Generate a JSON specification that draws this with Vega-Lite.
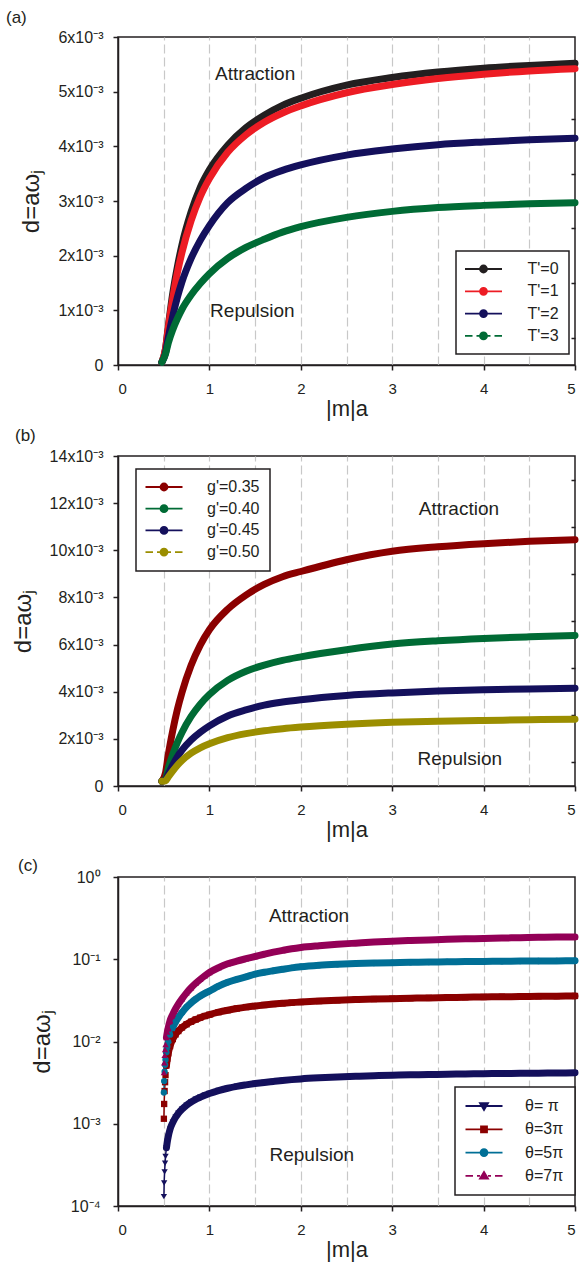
{
"$schema": "https://vega.github.io/schema/vega-lite/v6.json",
"padding": {"left": 5, "top": 8, "right": 0, "bottom": 5},
"background": "white",
"spacing": 91,
"bounds": "flush",
"config": {
  "font": "Liberation Sans",
  "view": {"stroke": "#231f20", "strokeWidth": 1.5},
  "axis": {"labelFont": "Liberation Sans", "labelFontSize": 15, "labelColor": "#231f20", "titleFont": "Liberation Sans", "titleFontSize": 22, "titleFontWeight": "normal", "titleColor": "#231f20", "domainColor": "#231f20", "domainWidth": 1.5, "tickColor": "#231f20", "tickWidth": 1.5, "tickSize": 5, "grid": false},
  "axisLeft": {"labelFontSize": 16, "titleFontSize": 24},
  "title": {"font": "Liberation Sans", "fontSize": 17, "fontWeight": "normal", "color": "#231f20", "anchor": "start", "frame": "group"},
  "legend": {"labelFont": "Liberation Sans", "labelFontSize": 16, "labelColor": "#231f20", "fillColor": "white", "strokeColor": "#231f20", "symbolSize": 100, "symbolStrokeWidth": 1.8}
},
"resolve": {"scale": {"color": "independent", "shape": "independent"}, "legend": {"color": "independent", "shape": "independent"}},
"datasets": {
  "a": [
    {"s":"T'=0","x":0.48,"y":0.00005},{"s":"T'=0","x":0.52,"y":0.0003},{"s":"T'=0","x":0.55,"y":0.0007},{"s":"T'=0","x":0.6,"y":0.00132},{"s":"T'=0","x":0.65,"y":0.0018},{"s":"T'=0","x":0.7,"y":0.0022},{"s":"T'=0","x":0.8,"y":0.0028},{"s":"T'=0","x":0.9,"y":0.00325},{"s":"T'=0","x":1.0,"y":0.00357},{"s":"T'=0","x":1.2,"y":0.00402},{"s":"T'=0","x":1.4,"y":0.00434},{"s":"T'=0","x":1.6,"y":0.00457},{"s":"T'=0","x":1.8,"y":0.00475},{"s":"T'=0","x":2.0,"y":0.00488},{"s":"T'=0","x":2.5,"y":0.00512},{"s":"T'=0","x":3.0,"y":0.00526},{"s":"T'=0","x":3.5,"y":0.00536},{"s":"T'=0","x":4.0,"y":0.00543},{"s":"T'=0","x":4.5,"y":0.00548},{"s":"T'=0","x":5.0,"y":0.00552},
    {"s":"T'=1","x":0.48,"y":0.00005},{"s":"T'=1","x":0.52,"y":0.00029},{"s":"T'=1","x":0.55,"y":0.00068},{"s":"T'=1","x":0.6,"y":0.00123},{"s":"T'=1","x":0.65,"y":0.00169},{"s":"T'=1","x":0.7,"y":0.00206},{"s":"T'=1","x":0.8,"y":0.00264},{"s":"T'=1","x":0.9,"y":0.00308},{"s":"T'=1","x":1.0,"y":0.00341},{"s":"T'=1","x":1.2,"y":0.00389},{"s":"T'=1","x":1.4,"y":0.00421},{"s":"T'=1","x":1.6,"y":0.00444},{"s":"T'=1","x":1.8,"y":0.00461},{"s":"T'=1","x":2.0,"y":0.00474},{"s":"T'=1","x":2.5,"y":0.00498},{"s":"T'=1","x":3.0,"y":0.00513},{"s":"T'=1","x":3.5,"y":0.00524},{"s":"T'=1","x":4.0,"y":0.00532},{"s":"T'=1","x":4.5,"y":0.00538},{"s":"T'=1","x":5.0,"y":0.00542},
    {"s":"T'=2","x":0.48,"y":0.00005},{"s":"T'=2","x":0.52,"y":0.00022},{"s":"T'=2","x":0.55,"y":0.0005},{"s":"T'=2","x":0.6,"y":0.0009},{"s":"T'=2","x":0.65,"y":0.00124},{"s":"T'=2","x":0.7,"y":0.00152},{"s":"T'=2","x":0.8,"y":0.00195},{"s":"T'=2","x":0.9,"y":0.00228},{"s":"T'=2","x":1.0,"y":0.00255},{"s":"T'=2","x":1.2,"y":0.00297},{"s":"T'=2","x":1.4,"y":0.00323},{"s":"T'=2","x":1.6,"y":0.00343},{"s":"T'=2","x":1.8,"y":0.00356},{"s":"T'=2","x":2.0,"y":0.00366},{"s":"T'=2","x":2.5,"y":0.00384},{"s":"T'=2","x":3.0,"y":0.00395},{"s":"T'=2","x":3.5,"y":0.00403},{"s":"T'=2","x":4.0,"y":0.00408},{"s":"T'=2","x":4.5,"y":0.00412},{"s":"T'=2","x":5.0,"y":0.00415},
    {"s":"T'=3","x":0.48,"y":0.00005},{"s":"T'=3","x":0.52,"y":0.0002},{"s":"T'=3","x":0.55,"y":0.0004},{"s":"T'=3","x":0.6,"y":0.00065},{"s":"T'=3","x":0.65,"y":0.00085},{"s":"T'=3","x":0.7,"y":0.00102},{"s":"T'=3","x":0.8,"y":0.00128},{"s":"T'=3","x":0.9,"y":0.00149},{"s":"T'=3","x":1.0,"y":0.00167},{"s":"T'=3","x":1.2,"y":0.00195},{"s":"T'=3","x":1.4,"y":0.00215},{"s":"T'=3","x":1.6,"y":0.0023},{"s":"T'=3","x":1.8,"y":0.00243},{"s":"T'=3","x":2.0,"y":0.00253},{"s":"T'=3","x":2.5,"y":0.0027},{"s":"T'=3","x":3.0,"y":0.00281},{"s":"T'=3","x":3.5,"y":0.00288},{"s":"T'=3","x":4.0,"y":0.00292},{"s":"T'=3","x":4.5,"y":0.00295},{"s":"T'=3","x":5.0,"y":0.00297}
  ],
  "b": [
    {"s":"g'=0.35","x":0.48,"y":0.0002},{"s":"g'=0.35","x":0.52,"y":0.00056},{"s":"g'=0.35","x":0.55,"y":0.00132},{"s":"g'=0.35","x":0.6,"y":0.00237},{"s":"g'=0.35","x":0.65,"y":0.00325},{"s":"g'=0.35","x":0.7,"y":0.00397},{"s":"g'=0.35","x":0.8,"y":0.00512},{"s":"g'=0.35","x":0.9,"y":0.00598},{"s":"g'=0.35","x":1.0,"y":0.00663},{"s":"g'=0.35","x":1.2,"y":0.0075},{"s":"g'=0.35","x":1.4,"y":0.0081},{"s":"g'=0.35","x":1.6,"y":0.00855},{"s":"g'=0.35","x":1.8,"y":0.00888},{"s":"g'=0.35","x":2.0,"y":0.0091},{"s":"g'=0.35","x":2.5,"y":0.0096},{"s":"g'=0.35","x":3.0,"y":0.00996},{"s":"g'=0.35","x":3.5,"y":0.01015},{"s":"g'=0.35","x":4.0,"y":0.01028},{"s":"g'=0.35","x":4.5,"y":0.01038},{"s":"g'=0.35","x":5.0,"y":0.01045},
    {"s":"g'=0.40","x":0.48,"y":0.0002},{"s":"g'=0.40","x":0.52,"y":0.0003},{"s":"g'=0.40","x":0.55,"y":0.00075},{"s":"g'=0.40","x":0.6,"y":0.00135},{"s":"g'=0.40","x":0.65,"y":0.00185},{"s":"g'=0.40","x":0.7,"y":0.00227},{"s":"g'=0.40","x":0.8,"y":0.00295},{"s":"g'=0.40","x":0.9,"y":0.00347},{"s":"g'=0.40","x":1.0,"y":0.00388},{"s":"g'=0.40","x":1.2,"y":0.00448},{"s":"g'=0.40","x":1.4,"y":0.00487},{"s":"g'=0.40","x":1.6,"y":0.00513},{"s":"g'=0.40","x":1.8,"y":0.00533},{"s":"g'=0.40","x":2.0,"y":0.00548},{"s":"g'=0.40","x":2.5,"y":0.00578},{"s":"g'=0.40","x":3.0,"y":0.00602},{"s":"g'=0.40","x":3.5,"y":0.00616},{"s":"g'=0.40","x":4.0,"y":0.00626},{"s":"g'=0.40","x":4.5,"y":0.00633},{"s":"g'=0.40","x":5.0,"y":0.00639},
    {"s":"g'=0.45","x":0.48,"y":0.0002},{"s":"g'=0.45","x":0.52,"y":0.00025},{"s":"g'=0.45","x":0.55,"y":0.0005},{"s":"g'=0.45","x":0.6,"y":0.0009},{"s":"g'=0.45","x":0.65,"y":0.00124},{"s":"g'=0.45","x":0.7,"y":0.00152},{"s":"g'=0.45","x":0.8,"y":0.00195},{"s":"g'=0.45","x":0.9,"y":0.00228},{"s":"g'=0.45","x":1.0,"y":0.00255},{"s":"g'=0.45","x":1.2,"y":0.00297},{"s":"g'=0.45","x":1.4,"y":0.00323},{"s":"g'=0.45","x":1.6,"y":0.00343},{"s":"g'=0.45","x":1.8,"y":0.00356},{"s":"g'=0.45","x":2.0,"y":0.00366},{"s":"g'=0.45","x":2.5,"y":0.00384},{"s":"g'=0.45","x":3.0,"y":0.00395},{"s":"g'=0.45","x":3.5,"y":0.00403},{"s":"g'=0.45","x":4.0,"y":0.00408},{"s":"g'=0.45","x":4.5,"y":0.00412},{"s":"g'=0.45","x":5.0,"y":0.00415},
    {"s":"g'=0.50","x":0.48,"y":0.0002},{"s":"g'=0.50","x":0.52,"y":0.00022},{"s":"g'=0.50","x":0.55,"y":0.00038},{"s":"g'=0.50","x":0.6,"y":0.00064},{"s":"g'=0.50","x":0.65,"y":0.00088},{"s":"g'=0.50","x":0.7,"y":0.00108},{"s":"g'=0.50","x":0.8,"y":0.00139},{"s":"g'=0.50","x":0.9,"y":0.00162},{"s":"g'=0.50","x":1.0,"y":0.00179},{"s":"g'=0.50","x":1.2,"y":0.00205},{"s":"g'=0.50","x":1.4,"y":0.00222},{"s":"g'=0.50","x":1.6,"y":0.00234},{"s":"g'=0.50","x":1.8,"y":0.00243},{"s":"g'=0.50","x":2.0,"y":0.0025},{"s":"g'=0.50","x":2.5,"y":0.00262},{"s":"g'=0.50","x":3.0,"y":0.0027},{"s":"g'=0.50","x":3.5,"y":0.00275},{"s":"g'=0.50","x":4.0,"y":0.00278},{"s":"g'=0.50","x":4.5,"y":0.00281},{"s":"g'=0.50","x":5.0,"y":0.00283}
  ],
  "c": [
    {"s":"θ= π","x":0.502,"y":0.00013},{"s":"θ= π","x":0.505,"y":0.00019},{"s":"θ= π","x":0.51,"y":0.00026},{"s":"θ= π","x":0.515,"y":0.00033},{"s":"θ= π","x":0.52,"y":0.0004},{"s":"θ= π","x":0.53,"y":0.00051},{"s":"θ= π","x":0.54,"y":0.00061},{"s":"θ= π","x":0.55,"y":0.0007},{"s":"θ= π","x":0.57,"y":0.00086},{"s":"θ= π","x":0.6,"y":0.00104},{"s":"θ= π","x":0.63,"y":0.0012},{"s":"θ= π","x":0.66,"y":0.00134},{"s":"θ= π","x":0.7,"y":0.0015},{"s":"θ= π","x":0.75,"y":0.00168},{"s":"θ= π","x":0.8,"y":0.00184},{"s":"θ= π","x":0.85,"y":0.00198},{"s":"θ= π","x":0.9,"y":0.0021},{"s":"θ= π","x":0.95,"y":0.00222},{"s":"θ= π","x":1.0,"y":0.00233},{"s":"θ= π","x":1.1,"y":0.00253},{"s":"θ= π","x":1.2,"y":0.0027},{"s":"θ= π","x":1.3,"y":0.00285},{"s":"θ= π","x":1.4,"y":0.00297},{"s":"θ= π","x":1.5,"y":0.00308},{"s":"θ= π","x":1.6,"y":0.00318},{"s":"θ= π","x":1.7,"y":0.00327},{"s":"θ= π","x":1.8,"y":0.00336},{"s":"θ= π","x":1.9,"y":0.00344},{"s":"θ= π","x":2.0,"y":0.00351},{"s":"θ= π","x":2.2,"y":0.00362},{"s":"θ= π","x":2.4,"y":0.00371},{"s":"θ= π","x":2.6,"y":0.00378},{"s":"θ= π","x":2.8,"y":0.00384},{"s":"θ= π","x":3.0,"y":0.00389},{"s":"θ= π","x":3.2,"y":0.00393},{"s":"θ= π","x":3.4,"y":0.00397},{"s":"θ= π","x":3.6,"y":0.004},{"s":"θ= π","x":3.8,"y":0.00403},{"s":"θ= π","x":4.0,"y":0.00406},{"s":"θ= π","x":4.2,"y":0.00408},{"s":"θ= π","x":4.4,"y":0.0041},{"s":"θ= π","x":4.6,"y":0.00412},{"s":"θ= π","x":4.8,"y":0.00414},{"s":"θ= π","x":5.0,"y":0.00416},
    {"s":"θ=3π","x":0.502,"y":0.00115},{"s":"θ=3π","x":0.505,"y":0.00174},{"s":"θ=3π","x":0.51,"y":0.0025},{"s":"θ=3π","x":0.515,"y":0.0032},{"s":"θ=3π","x":0.52,"y":0.0039},{"s":"θ=3π","x":0.53,"y":0.0051},{"s":"θ=3π","x":0.54,"y":0.0062},{"s":"θ=3π","x":0.55,"y":0.0072},{"s":"θ=3π","x":0.57,"y":0.0088},{"s":"θ=3π","x":0.6,"y":0.0107},{"s":"θ=3π","x":0.63,"y":0.0122},{"s":"θ=3π","x":0.66,"y":0.0134},{"s":"θ=3π","x":0.7,"y":0.0148},{"s":"θ=3π","x":0.75,"y":0.0162},{"s":"θ=3π","x":0.8,"y":0.0174},{"s":"θ=3π","x":0.85,"y":0.0185},{"s":"θ=3π","x":0.9,"y":0.0195},{"s":"θ=3π","x":0.95,"y":0.0204},{"s":"θ=3π","x":1.0,"y":0.0212},{"s":"θ=3π","x":1.1,"y":0.0227},{"s":"θ=3π","x":1.2,"y":0.024},{"s":"θ=3π","x":1.3,"y":0.0252},{"s":"θ=3π","x":1.4,"y":0.0262},{"s":"θ=3π","x":1.5,"y":0.027},{"s":"θ=3π","x":1.6,"y":0.0278},{"s":"θ=3π","x":1.7,"y":0.0285},{"s":"θ=3π","x":1.8,"y":0.0291},{"s":"θ=3π","x":1.9,"y":0.0297},{"s":"θ=3π","x":2.0,"y":0.0302},{"s":"θ=3π","x":2.2,"y":0.031},{"s":"θ=3π","x":2.4,"y":0.0317},{"s":"θ=3π","x":2.6,"y":0.0323},{"s":"θ=3π","x":2.8,"y":0.0328},{"s":"θ=3π","x":3.0,"y":0.0332},{"s":"θ=3π","x":3.2,"y":0.0336},{"s":"θ=3π","x":3.4,"y":0.0339},{"s":"θ=3π","x":3.6,"y":0.0342},{"s":"θ=3π","x":3.8,"y":0.0345},{"s":"θ=3π","x":4.0,"y":0.0348},{"s":"θ=3π","x":4.2,"y":0.035},{"s":"θ=3π","x":4.4,"y":0.0352},{"s":"θ=3π","x":4.6,"y":0.0354},{"s":"θ=3π","x":4.8,"y":0.0356},{"s":"θ=3π","x":5.0,"y":0.0358},
    {"s":"θ=5π","x":0.502,"y":0.0024},{"s":"θ=5π","x":0.505,"y":0.0033},{"s":"θ=5π","x":0.51,"y":0.0043},{"s":"θ=5π","x":0.515,"y":0.0052},{"s":"θ=5π","x":0.52,"y":0.006},{"s":"θ=5π","x":0.53,"y":0.0074},{"s":"θ=5π","x":0.54,"y":0.0087},{"s":"θ=5π","x":0.55,"y":0.0099},{"s":"θ=5π","x":0.57,"y":0.0121},{"s":"θ=5π","x":0.6,"y":0.0148},{"s":"θ=5π","x":0.63,"y":0.0173},{"s":"θ=5π","x":0.66,"y":0.0196},{"s":"θ=5π","x":0.7,"y":0.0225},{"s":"θ=5π","x":0.75,"y":0.0262},{"s":"θ=5π","x":0.8,"y":0.0295},{"s":"θ=5π","x":0.85,"y":0.0327},{"s":"θ=5π","x":0.9,"y":0.0357},{"s":"θ=5π","x":0.95,"y":0.0385},{"s":"θ=5π","x":1.0,"y":0.041},{"s":"θ=5π","x":1.1,"y":0.047},{"s":"θ=5π","x":1.2,"y":0.0525},{"s":"θ=5π","x":1.3,"y":0.057},{"s":"θ=5π","x":1.4,"y":0.061},{"s":"θ=5π","x":1.5,"y":0.066},{"s":"θ=5π","x":1.6,"y":0.0695},{"s":"θ=5π","x":1.7,"y":0.0725},{"s":"θ=5π","x":1.8,"y":0.0755},{"s":"θ=5π","x":1.9,"y":0.0785},{"s":"θ=5π","x":2.0,"y":0.081},{"s":"θ=5π","x":2.2,"y":0.0845},{"s":"θ=5π","x":2.4,"y":0.0868},{"s":"θ=5π","x":2.6,"y":0.0885},{"s":"θ=5π","x":2.8,"y":0.0898},{"s":"θ=5π","x":3.0,"y":0.0908},{"s":"θ=5π","x":3.2,"y":0.0917},{"s":"θ=5π","x":3.4,"y":0.0924},{"s":"θ=5π","x":3.6,"y":0.093},{"s":"θ=5π","x":3.8,"y":0.0936},{"s":"θ=5π","x":4.0,"y":0.0941},{"s":"θ=5π","x":4.2,"y":0.0945},{"s":"θ=5π","x":4.4,"y":0.0949},{"s":"θ=5π","x":4.6,"y":0.0952},{"s":"θ=5π","x":4.8,"y":0.0955},{"s":"θ=5π","x":5.0,"y":0.0958},
    {"s":"θ=7π","x":0.502,"y":0.0042},{"s":"θ=7π","x":0.505,"y":0.0055},{"s":"θ=7π","x":0.51,"y":0.0068},{"s":"θ=7π","x":0.515,"y":0.008},{"s":"θ=7π","x":0.52,"y":0.0092},{"s":"θ=7π","x":0.53,"y":0.0112},{"s":"θ=7π","x":0.54,"y":0.013},{"s":"θ=7π","x":0.55,"y":0.0148},{"s":"θ=7π","x":0.57,"y":0.018},{"s":"θ=7π","x":0.6,"y":0.0215},{"s":"θ=7π","x":0.63,"y":0.025},{"s":"θ=7π","x":0.66,"y":0.0285},{"s":"θ=7π","x":0.7,"y":0.033},{"s":"θ=7π","x":0.75,"y":0.039},{"s":"θ=7π","x":0.8,"y":0.045},{"s":"θ=7π","x":0.85,"y":0.051},{"s":"θ=7π","x":0.9,"y":0.057},{"s":"θ=7π","x":0.95,"y":0.063},{"s":"θ=7π","x":1.0,"y":0.069},{"s":"θ=7π","x":1.1,"y":0.079},{"s":"θ=7π","x":1.2,"y":0.088},{"s":"θ=7π","x":1.3,"y":0.095},{"s":"θ=7π","x":1.4,"y":0.1015},{"s":"θ=7π","x":1.5,"y":0.108},{"s":"θ=7π","x":1.6,"y":0.115},{"s":"θ=7π","x":1.7,"y":0.122},{"s":"θ=7π","x":1.8,"y":0.128},{"s":"θ=7π","x":1.9,"y":0.134},{"s":"θ=7π","x":2.0,"y":0.139},{"s":"θ=7π","x":2.2,"y":0.146},{"s":"θ=7π","x":2.4,"y":0.152},{"s":"θ=7π","x":2.6,"y":0.157},{"s":"θ=7π","x":2.8,"y":0.162},{"s":"θ=7π","x":3.0,"y":0.166},{"s":"θ=7π","x":3.2,"y":0.169},{"s":"θ=7π","x":3.4,"y":0.172},{"s":"θ=7π","x":3.6,"y":0.175},{"s":"θ=7π","x":3.8,"y":0.177},{"s":"θ=7π","x":4.0,"y":0.179},{"s":"θ=7π","x":4.2,"y":0.181},{"s":"θ=7π","x":4.4,"y":0.183},{"s":"θ=7π","x":4.6,"y":0.185},{"s":"θ=7π","x":4.8,"y":0.186},{"s":"θ=7π","x":5.0,"y":0.187}
  ],
  "annA": [{"x":1.5,"y":0.00532,"t":"Attraction"},{"x":1.47,"y":0.00099,"t":"Repulsion"}],
  "annB": [{"x":3.73,"y":0.01176,"t":"Attraction"},{"x":3.74,"y":0.00114,"t":"Repulsion"}],
  "annC": [{"x":2.09,"y":0.334,"t":"Attraction"},{"x":2.12,"y":0.000417,"t":"Repulsion"}]
},
"vconcat": [
  {
    "width": 457, "height": 328,
    "title": {"text": "(a)", "dx": -112, "offset": 2},
    "layer": [
      {
        "data": {"name": "a"},
        "mark": {"type": "line", "strokeWidth": 7, "strokeCap": "round", "strokeJoin": "round", "interpolate": "monotone"},
        "encoding": {
          "x": {"field": "x", "type": "quantitative", "scale": {"domain": [0, 5]}, "axis": {"orient": "bottom", "values": [0,1,2,3,4,5], "format": "d", "title": "|m|a", "labelPadding": 11, "titlePadding": 2}},
          "y": {"field": "y", "type": "quantitative", "scale": {"domain": [0, 0.006]}, "axis": {"orient": "left", "values": [0,0.001,0.002,0.003,0.004,0.005,0.006], "labelExpr": "datum.value == 0 ? '0' : round(datum.value*1000) + 'x10⁻³'", "title": "d=aωⱼ", "labelPadding": 10, "titlePadding": 14}},
          "color": {"field": "s", "type": "nominal", "scale": {"domain": ["T'=0","T'=1","T'=2","T'=3"], "range": ["#231f20","#ed1c24","#14105c","#006b35"]},
            "legend": {"orient": "none", "legendX": 338, "legendY": 214, "title": null, "padding": 10, "symbolOffset": 9.5, "labelOffset": 36, "rowPadding": 6.3, "labelExpr": "datum.label + ' '",
              "encode": {
                "legend": {"update": {"strokeWidth": {"value": 1.5}}},
                "symbols": {"update": {
                  "shape": {"signal": "datum.value === \"T'=3\" ? 'M-3.7,0H-2.2M-1.4,0H-0.7M0.7,0H1.4M2.2,0H3.7M0.7,0A0.7,0.7,0,1,1,-0.7,0A0.7,0.7,0,1,1,0.7,0Z' : 'M-3.7,0H3.7M0.7,0A0.7,0.7,0,1,1,-0.7,0A0.7,0.7,0,1,1,0.7,0Z'"},
                  "fill": {"signal": "['#231f20','#ed1c24','#14105c','#006b35'][indexof([\"T'=0\",\"T'=1\",\"T'=2\",\"T'=3\"], datum.value)]"},
                  "stroke": {"signal": "['#231f20','#ed1c24','#14105c','#006b35'][indexof([\"T'=0\",\"T'=1\",\"T'=2\",\"T'=3\"], datum.value)]"},
                  "strokeWidth": {"value": 1.8},
                  "opacity": {"value": 1}
                }}
              }
            }
          }
        }
      },
      {
        "data": {"name": "annA"},
        "mark": {"type": "text", "fontSize": 19, "font": "Liberation Sans", "color": "#231f20"},
        "encoding": {
          "x": {"field": "x", "type": "quantitative", "axis": {"orient": "top", "values": [0.5,1,1.5,2,2.5,3,3.5,4,4.5], "grid": true, "gridDash": [9,4], "gridColor": "#c8c8c8", "gridWidth": 1.2, "labels": false, "ticks": false, "domain": false, "title": null}},
          "y": {"field": "y", "type": "quantitative", "axis": {"orient": "right", "values": [0.0005,0.0015,0.0025,0.0035,0.0045,0.0055], "tickSize": -4, "labels": false, "domain": false, "title": null}},
          "text": {"field": "t"}
        }
      }
    ],
    "resolve": {"axis": {"x": "independent", "y": "independent"}}
  },
  {
    "width": 457, "height": 330,
    "title": {"text": "(b)", "dx": -103, "offset": 3},
    "layer": [
      {
        "data": {"name": "b"},
        "mark": {"type": "line", "strokeWidth": 7, "strokeCap": "round", "strokeJoin": "round", "interpolate": "monotone"},
        "encoding": {
          "x": {"field": "x", "type": "quantitative", "scale": {"domain": [0, 5]}, "axis": {"orient": "bottom", "values": [0,1,2,3,4,5], "format": "d", "title": "|m|a", "labelPadding": 11, "titlePadding": 2}},
          "y": {"field": "y", "type": "quantitative", "scale": {"domain": [0, 0.014]}, "axis": {"orient": "left", "values": [0,0.002,0.004,0.006,0.008,0.01,0.012,0.014], "labelExpr": "datum.value == 0 ? '0' : round(datum.value*1000) + 'x10⁻³'", "title": "d=aωⱼ", "labelPadding": 10, "titlePadding": 14}},
          "color": {"field": "s", "type": "nominal", "scale": {"domain": ["g'=0.35","g'=0.40","g'=0.45","g'=0.50"], "range": ["#8b0000","#006b35","#14105c","#9b8e00"]},
            "legend": {"orient": "none", "legendX": 18, "legendY": 13, "title": null, "padding": 10, "symbolOffset": 10, "labelOffset": 35, "rowPadding": 5.7,
              "encode": {
                "legend": {"update": {"strokeWidth": {"value": 1.5}}},
                "symbols": {"update": {
                  "shape": {"signal": "datum.value === \"g'=0.50\" ? 'M-3.7,0H-2.2M-1.4,0H-0.7M0.7,0H1.4M2.2,0H3.7M0.7,0A0.7,0.7,0,1,1,-0.7,0A0.7,0.7,0,1,1,0.7,0Z' : 'M-3.7,0H3.7M0.7,0A0.7,0.7,0,1,1,-0.7,0A0.7,0.7,0,1,1,0.7,0Z'"},
                  "fill": {"signal": "['#8b0000','#006b35','#14105c','#9b8e00'][indexof([\"g'=0.35\",\"g'=0.40\",\"g'=0.45\",\"g'=0.50\"], datum.value)]"},
                  "stroke": {"value": "#231f20"},
                  "strokeWidth": {"value": 1.8},
                  "opacity": {"value": 1}
                }}
              }
            }
          }
        }
      },
      {
        "data": {"name": "annB"},
        "mark": {"type": "text", "fontSize": 19, "font": "Liberation Sans", "color": "#231f20"},
        "encoding": {
          "x": {"field": "x", "type": "quantitative", "axis": {"orient": "top", "values": [0.5,1,1.5,2,2.5,3,3.5,4,4.5], "grid": true, "gridDash": [9,4], "gridColor": "#c8c8c8", "gridWidth": 1.2, "labels": false, "ticks": false, "domain": false, "title": null}},
          "y": {"field": "y", "type": "quantitative", "axis": {"orient": "right", "values": [0.001,0.003,0.005,0.007,0.009,0.011,0.013], "tickSize": -4, "labels": false, "domain": false, "title": null}},
          "text": {"field": "t"}
        }
      }
    ],
    "resolve": {"axis": {"x": "independent", "y": "independent"}}
  },
  {
    "width": 457, "height": 329,
    "title": {"text": "(c)", "dx": -100, "offset": 0, "dy": 6},
    "layer": [
      {
        "data": {"name": "c"},
        "mark": {"type": "line", "strokeWidth": 1.5, "interpolate": "monotone"},
        "encoding": {
          "x": {"field": "x", "type": "quantitative", "scale": {"domain": [0, 5]}, "axis": {"orient": "bottom", "values": [0,1,2,3,4,5], "format": "d", "title": "|m|a", "labelPadding": 11, "titlePadding": 2}},
          "y": {"field": "y", "type": "quantitative", "scale": {"type": "log", "domain": [0.0001, 1]}, "axis": {"orient": "left", "values": [0.0001,0.001,0.01,0.1,1], "labelExpr": "'10' + (datum.value > 0.5 ? '⁰' : datum.value > 0.05 ? '⁻¹' : datum.value > 0.005 ? '⁻²' : datum.value > 0.0005 ? '⁻³' : '⁻⁴')", "title": "d=aωⱼ", "labelPadding": 13, "titlePadding": 16}},
          "color": {"field": "s", "type": "nominal", "scale": {"domain": ["θ= π","θ=3π","θ=5π","θ=7π"], "range": ["#14105c","#8b0000","#006f96","#930057"]},
            "legend": {"orient": "none", "legendX": 337, "legendY": 210, "title": null, "padding": 11, "symbolOffset": 10, "labelOffset": 33, "rowPadding": 7.3, "labelExpr": "datum.label + ' '",
              "encode": {
                "legend": {"update": {"strokeWidth": {"value": 1.5}}},
                "symbols": {"update": {
                  "shape": {"signal": "['M-3.7,0H3.7M-0.8,-0.55L0.8,-0.55L0,0.8Z','M-3.7,0H3.7M-0.6,-0.6H0.6V0.6H-0.6Z','M-3.7,0H3.7M0.7,0A0.7,0.7,0,1,1,-0.7,0A0.7,0.7,0,1,1,0.7,0Z','M-3.7,0H-2.2M-1.4,0H-0.8M0.8,0H1.4M2.2,0H3.7M-0.8,0.55L0.8,0.55L0,-0.8Z'][indexof([\"θ= π\",\"θ=3π\",\"θ=5π\",\"θ=7π\"], datum.value)]"},
                  "fill": {"signal": "['#14105c','#8b0000','#006f96','#930057'][indexof([\"θ= π\",\"θ=3π\",\"θ=5π\",\"θ=7π\"], datum.value)]"},
                  "stroke": {"signal": "['#14105c','#8b0000','#006f96','#930057'][indexof([\"θ= π\",\"θ=3π\",\"θ=5π\",\"θ=7π\"], datum.value)]"},
                  "strokeWidth": {"value": 1.8},
                  "opacity": {"value": 1}
                }}
              }
            }
          }
        }
      },
      {
        "data": {"name": "c"},
        "transform": [{"filter": "datum.x >= 0.53"}],
        "mark": {"type": "line", "strokeWidth": 7, "strokeCap": "round", "strokeJoin": "round", "interpolate": "monotone"},
        "encoding": {
          "x": {"field": "x", "type": "quantitative", "axis": null},
          "y": {"field": "y", "type": "quantitative", "scale": {"type": "log"}, "axis": null},
          "color": {"field": "s", "type": "nominal", "legend": null}
        }
      },
      {
        "data": {"name": "c"},
        "transform": [{"filter": "datum.s === 'θ= π'"}],
        "mark": {"type": "point", "filled": true, "size": 40, "opacity": 1, "shape": "triangle-down"},
        "encoding": {
          "x": {"field": "x", "type": "quantitative", "axis": null},
          "y": {"field": "y", "type": "quantitative", "scale": {"type": "log"}, "axis": null},
          "color": {"field": "s", "type": "nominal", "legend": null}
        }
      },
      {
        "data": {"name": "c"},
        "transform": [{"filter": "datum.s === 'θ=3π'"}],
        "mark": {"type": "point", "filled": true, "size": 40, "opacity": 1, "shape": "square"},
        "encoding": {
          "x": {"field": "x", "type": "quantitative", "axis": null},
          "y": {"field": "y", "type": "quantitative", "scale": {"type": "log"}, "axis": null},
          "color": {"field": "s", "type": "nominal", "legend": null}
        }
      },
      {
        "data": {"name": "c"},
        "transform": [{"filter": "datum.s === 'θ=5π'"}],
        "mark": {"type": "point", "filled": true, "size": 40, "opacity": 1, "shape": "circle"},
        "encoding": {
          "x": {"field": "x", "type": "quantitative", "axis": null},
          "y": {"field": "y", "type": "quantitative", "scale": {"type": "log"}, "axis": null},
          "color": {"field": "s", "type": "nominal", "legend": null}
        }
      },
      {
        "data": {"name": "c"},
        "transform": [{"filter": "datum.s === 'θ=7π'"}],
        "mark": {"type": "point", "filled": true, "size": 40, "opacity": 1, "shape": "triangle-up"},
        "encoding": {
          "x": {"field": "x", "type": "quantitative", "axis": null},
          "y": {"field": "y", "type": "quantitative", "scale": {"type": "log"}, "axis": null},
          "color": {"field": "s", "type": "nominal", "legend": null}
        }
      },
      {
        "data": {"name": "annC"},
        "mark": {"type": "text", "fontSize": 19, "font": "Liberation Sans", "color": "#231f20"},
        "encoding": {
          "x": {"field": "x", "type": "quantitative", "axis": {"orient": "top", "values": [0.5,1,1.5,2,2.5,3,3.5,4,4.5], "grid": true, "gridDash": [9,4], "gridColor": "#c8c8c8", "gridWidth": 1.2, "labels": false, "ticks": false, "domain": false, "title": null}},
          "y": {"field": "y", "type": "quantitative", "scale": {"type": "log"}, "axis": null},
          "text": {"field": "t"}
        }
      }
    ],
    "resolve": {"axis": {"x": "independent", "y": "independent"}}
  }
]
}
